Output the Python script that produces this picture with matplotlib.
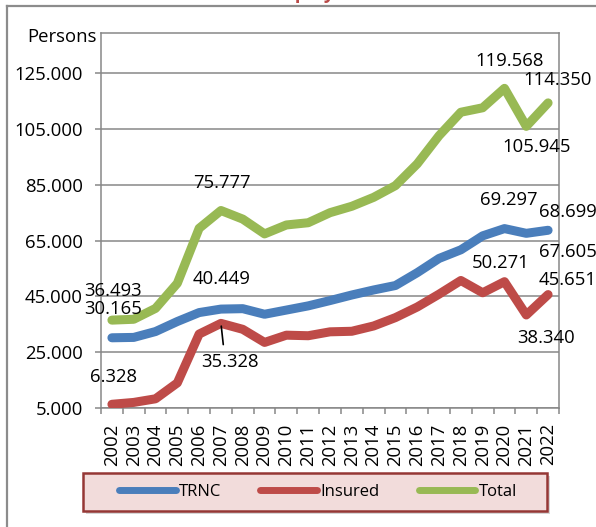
import numpy as np
import matplotlib
matplotlib.use("Agg")
import matplotlib.pyplot as plt
from matplotlib.lines import Line2D
from matplotlib.patches import Rectangle

plt.rcParams["font.family"] = ["Open Sans", "DejaVu Sans"]

# data
years = [str(y) for y in range(2002, 2023)]
trnc = [30165, 30300, 32400, 36000, 39200, 40449, 40600, 38600, 40100, 41600, 43500,
        45500, 47300, 48900, 53500, 58600, 61700, 66700, 69297, 67605, 68699]
insured = [6328, 7000, 8300, 14000, 31500, 35328, 33200, 28500, 31100, 30900, 32300,
           32500, 34400, 37400, 41200, 45800, 50700, 46300, 50271, 38340, 45651]
total = [36493, 36800, 40700, 49700, 69400, 75777, 72700, 67400, 70600, 71400, 75000,
         77300, 80500, 84700, 92500, 102600, 111000, 112600, 119568, 105945, 114350]
series_names = ["TRNC", "Insured", "Total"]
y_ticks = list(range(5000, 125001, 20000))

colors = {"TRNC": "#4A7EBB", "Insured": "#BE4B48", "Total": "#98B954"}
GRID = "#878787"
FS = 13.3
W, H = 596, 527


def fmt(v):
    return f"{v:,.0f}".replace(",", ".")


fig = plt.figure(figsize=(W / 100, H / 100), dpi=100)
ax = fig.add_axes([101 / W, (H - 408) / H, 458 / W, (408 - 33) / H])

x = np.arange(len(years))
data = {"TRNC": trnc, "Insured": insured, "Total": total}
for name in series_names:
    ax.plot(x, data[name], color=colors[name], lw=6.5,
            solid_capstyle="round", solid_joinstyle="round", zorder=3)

ax.set_xlim(-0.5, len(years) - 0.5)
ax.set_ylim(5000, 139400)
ax.set_yticks(y_ticks)
ax.set_yticklabels([fmt(v) for v in y_ticks])
ax.yaxis.grid(True, color=GRID, lw=1.1)
ax.set_axisbelow(True)
for sp in ax.spines.values():
    sp.set_color(GRID)
    sp.set_linewidth(1.1)

ax.set_xticks(x)
ax.set_xticklabels(years, rotation=90)
ax.set_xticks(np.arange(-0.5, len(years), 1), minor=True)
ax.tick_params(axis="x", which="major", length=0, pad=11, labelsize=FS)
ax.tick_params(axis="x", which="minor", length=4, width=1.1, color=GRID)
ax.tick_params(axis="y", length=4, width=1.1, color=GRID, pad=9, labelsize=FS)

# data labels: (series, index, offset in pixels)
labels = [
    ("Total", 0, (1.5, 24.5)), ("TRNC", 0, (1.5, 24.2)), ("Insured", 0, (1.5, 22.5)),
    ("Total", 5, (1, 22.5)), ("TRNC", 5, (1, 25)),
    ("Total", 18, (5, 22.5)), ("Total", 19, (10, -25.5)), ("Total", 20, (10, 17.5)),
    ("TRNC", 18, (4.5, 24)), ("TRNC", 19, (42, -23.7)), ("TRNC", 20, (20, 13)),
    ("Insured", 18, (-4, 13.5)), ("Insured", 19, (20, -28.5)), ("Insured", 20, (20, 10)),
]
for name, i, off in labels:
    ax.annotate(fmt(data[name][i]), (x[i], data[name][i]), xytext=off,
                textcoords="offset pixels", ha="center", va="baseline",
                fontsize=FS, annotation_clip=False, zorder=5)

# moved label with leader line
ax.annotate(fmt(insured[5]), (x[5], insured[5]), xytext=(9, -43.5),
            textcoords="offset pixels", ha="center", va="baseline", fontsize=FS,
            arrowprops=dict(arrowstyle="-", color="black", lw=1.2,
                            relpos=(0.4, 1.0), shrinkA=4, shrinkB=2),
            zorder=5)

fig.text(97 / W, 1 - 37.5 / H, "Persons", ha="right", va="center", fontsize=FS)

# cut-off title at the very top
fig.text(5 / W, 1 + 2 / H, "Chart 3: Number of Insured Employees", ha="left",
         va="baseline", fontsize=13.5, fontweight="bold", color="#B94A48")

# outer chart frame
fig.add_artist(Line2D([7 / W, 7 / W], [0, 1 - 5.5 / H], color="#8C8C8C", lw=1.6,
                      transform=fig.transFigure))
fig.add_artist(Line2D([7 / W, 1], [1 - 5.5 / H, 1 - 5.5 / H], color="#8C8C8C", lw=1.6,
                      transform=fig.transFigure))

# legend box with shadow
lx0, lx1, ly0, ly1 = 83, 547, 473, 511
fig.add_artist(Rectangle(((lx0 + 3) / W, 1 - (ly1 + 3) / H), (lx1 - lx0) / W,
                         (ly1 - ly0) / H, transform=fig.transFigure,
                         fc="#BBBBBB", ec="none", alpha=0.6))
fig.add_artist(Rectangle((lx0 / W, 1 - ly1 / H), (lx1 - lx0) / W, (ly1 - ly0) / H,
                         transform=fig.transFigure, fc="#F2DCDB", ec="#953735", lw=1.8))
handles = [Line2D([], [], color=colors[n], lw=5, solid_capstyle="round")
           for n in series_names]
fig.legend(handles, series_names, loc="center", bbox_to_anchor=(318 / W, 1 - 492 / H),
           ncol=3, frameon=False, fontsize=12, handlelength=3.4, handletextpad=0.2,
           columnspacing=2.35)

fig.savefig("out.png", dpi=100)
